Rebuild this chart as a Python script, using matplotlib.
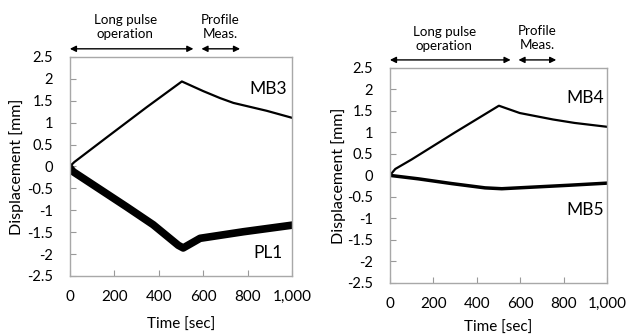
import numpy as np
import matplotlib
matplotlib.use("Agg")
import matplotlib.pyplot as plt

plt.rcParams['font.family'] = ['Lato', 'DejaVu Sans']

# values (time in sec, displacement in mm)
t_mb3 = [0, 20, 165, 345, 504, 600, 676, 736, 886, 1000]
mb3 = [0, 0.10, 0.66, 1.35, 1.94, 1.72, 1.56, 1.45, 1.27, 1.11]

t_pl1 = [0, 15, 105, 255, 375, 488, 510, 586, 781, 1000]
pl1 = [-0.03, -0.12, -0.42, -0.92, -1.33, -1.80, -1.86, -1.64, -1.49, -1.34]

t_mb4 = [0, 25, 100, 300, 502, 598, 751, 850, 1000]
mb4 = [0, 0.15, 0.37, 1.00, 1.62, 1.45, 1.30, 1.22, 1.13]

t_mb5 = [0, 131, 284, 438, 515, 668, 822, 1000]
mb5 = [0, -0.08, -0.19, -0.29, -0.31, -0.27, -0.23, -0.18]

xticks = [0, 200, 400, 600, 800, 1000]
xtick_labels = ['0', '200', '400', '600', '800', '1,000']
yticks = [2.5, 2, 1.5, 1, 0.5, 0, -0.5, -1, -1.5, -2, -2.5]
ytick_labels = ['2.5', '2', '1.5', '1', '0.5', '0', '-0.5', '-1', '-1.5', '-2', '-2.5']

fig = plt.figure(figsize=(6.35, 3.36), dpi=100)
ax1 = fig.add_axes([0.110, 0.1786, 0.350, 0.652])
ax2 = fig.add_axes([0.614, 0.158, 0.342, 0.640])

ax1.plot(t_mb3, mb3, color='black', lw=1.6)
ax1.plot(t_pl1, pl1, color='black', lw=5.5, solid_joinstyle='round')
ax1.text(892, 1.77, 'MB3', ha='center', va='center', fontsize=12.5)
ax1.text(892, -1.97, 'PL1', ha='center', va='center', fontsize=12.5)

ax2.plot(t_mb4, mb4, color='black', lw=1.6)
ax2.plot(t_mb5, mb5, color='black', lw=2.5)
ax2.text(898, 1.80, 'MB4', ha='center', va='center', fontsize=12.5)
ax2.text(898, -0.80, 'MB5', ha='center', va='center', fontsize=12.5)

for ax, lp in [(ax1, 10), (ax2, 7)]:
    ax.set_xlim(0, 1000)
    ax.set_ylim(-2.5, 2.5)
    ax.set_xticks(xticks)
    ax.set_xticklabels(xtick_labels)
    ax.set_yticks(yticks)
    ax.set_yticklabels(ytick_labels)
    ax.tick_params(direction='in', length=4, color='#999999', labelsize=11, pad=10)
    ax.tick_params(axis='y', labelsize=10.5, pad=12)
    for s in ax.spines.values():
        s.set_color('#a8a8a8')
        s.set_linewidth(1.0)
    ax.set_xlabel('Time [sec]', fontsize=11, labelpad=lp)
    ax.set_ylabel('Displacement [mm]', fontsize=11.5)

    # phase arrows above the plot
    trans = ax.get_xaxis_transform()
    ax.annotate('', xy=(0, 1.037), xytext=(556, 1.037), xycoords=trans, textcoords=trans,
                arrowprops=dict(arrowstyle='<|-|>', color='black', lw=1.0, mutation_scale=9,
                                shrinkA=0, shrinkB=0), annotation_clip=False)
    ax.annotate('', xy=(592, 1.037), xytext=(766, 1.037), xycoords=trans, textcoords=trans,
                arrowprops=dict(arrowstyle='<|-|>', color='black', lw=1.0, mutation_scale=9,
                                shrinkA=0, shrinkB=0), annotation_clip=False)
    ax.text(250, 1.136, 'Long pulse\noperation', transform=trans, ha='center', va='center',
            fontsize=9.6, linespacing=1.2)
    ax.text(677, 1.137, 'Profile\nMeas.', transform=trans, ha='center', va='center',
            fontsize=9.6, linespacing=1.2)

ax1.yaxis.set_label_coords(-0.205, 0.5)
ax2.yaxis.set_label_coords(-0.2, 0.5)

fig.savefig('out.png', dpi=100)
